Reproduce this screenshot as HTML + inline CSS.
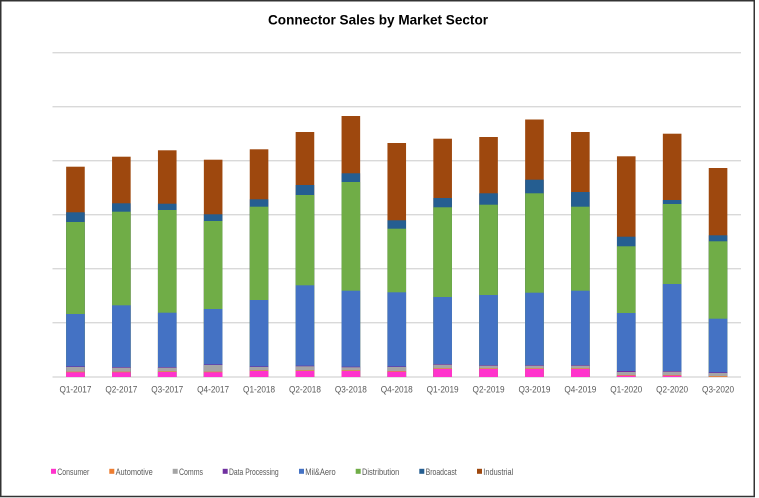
<!DOCTYPE html>
<html><head><meta charset="utf-8"><style>
html,body{margin:0;padding:0;background:#fff;}
svg{display:block;}
text{font-family:"Liberation Sans",sans-serif;}
.p{fill:#FF33CC}.o{fill:#ED7D31}.g{fill:#A5A5A5}.u{fill:#7030A0}.b{fill:#4472C4}.gr{fill:#70AD47}.bc{fill:#255E91}.i{fill:#9E480E}
</style></head><body>
<svg width="759" height="498" viewBox="0 0 759 498" xmlns="http://www.w3.org/2000/svg">
<rect x="0" y="0" width="759" height="498" fill="#fff"/>
<rect x="0.75" y="0.75" width="753.5" height="495.75" fill="none" stroke="#333" stroke-width="1.5"/>
<text x="378" y="24.5" text-anchor="middle" font-size="14" font-weight="bold" fill="#000" textLength="220" lengthAdjust="spacingAndGlyphs">Connector Sales by Market Sector</text>
<g fill="#d9d9d9">
<rect x="52.5" y="52" width="688.5" height="1.4"/>
<rect x="52.5" y="106" width="688.5" height="1.4"/>
<rect x="52.5" y="160" width="688.5" height="1.4"/>
<rect x="52.5" y="214" width="688.5" height="1.4"/>
<rect x="52.5" y="268" width="688.5" height="1.4"/>
<rect x="52.5" y="322" width="688.5" height="1.4"/>
<rect x="52.5" y="376.3" width="688.5" height="1.4"/>
</g>

<g transform="translate(66.15,0)">
<rect class="i" x="0" width="18.6" y="166.7" height="210.3"/>
<rect class="bc" x="0" width="18.6" y="212.3" height="164.7"/>
<rect class="gr" x="0" width="18.6" y="222" height="155"/>
<rect class="b" x="0" width="18.6" y="314" height="63"/>
<rect class="u" x="0" width="18.6" y="366.4" height="10.6"/>
<rect class="g" x="0" width="18.6" y="367" height="10"/>
<rect class="o" x="0" width="18.6" y="371.7" height="5.3"/>
<rect class="p" x="0" width="18.6" y="372.3" height="4.7"/>
</g>
<g transform="translate(112.05,0)">
<rect class="i" x="0" width="18.6" y="156.7" height="220.3"/>
<rect class="bc" x="0" width="18.6" y="203.3" height="173.7"/>
<rect class="gr" x="0" width="18.6" y="211.7" height="165.3"/>
<rect class="b" x="0" width="18.6" y="305.3" height="71.7"/>
<rect class="u" x="0" width="18.6" y="367.1" height="9.9"/>
<rect class="g" x="0" width="18.6" y="367.7" height="9.3"/>
<rect class="o" x="0" width="18.6" y="371.7" height="5.3"/>
<rect class="p" x="0" width="18.6" y="372.3" height="4.7"/>
</g>
<g transform="translate(157.95,0)">
<rect class="i" x="0" width="18.6" y="150.3" height="226.7"/>
<rect class="bc" x="0" width="18.6" y="203.7" height="173.3"/>
<rect class="gr" x="0" width="18.6" y="210" height="167"/>
<rect class="b" x="0" width="18.6" y="312.7" height="64.3"/>
<rect class="u" x="0" width="18.6" y="367.1" height="9.9"/>
<rect class="g" x="0" width="18.6" y="367.7" height="9.3"/>
<rect class="o" x="0" width="18.6" y="371.4" height="5.6"/>
<rect class="p" x="0" width="18.6" y="372" height="5"/>
</g>
<g transform="translate(203.85,0)">
<rect class="i" x="0" width="18.6" y="159.7" height="217.3"/>
<rect class="bc" x="0" width="18.6" y="214.3" height="162.7"/>
<rect class="gr" x="0" width="18.6" y="221" height="156"/>
<rect class="b" x="0" width="18.6" y="309" height="68"/>
<rect class="u" x="0" width="18.6" y="364.4" height="12.6"/>
<rect class="g" x="0" width="18.6" y="365" height="12"/>
<rect class="o" x="0" width="18.6" y="371.7" height="5.3"/>
<rect class="p" x="0" width="18.6" y="372.3" height="4.7"/>
</g>
<g transform="translate(249.75,0)">
<rect class="i" x="0" width="18.6" y="149.3" height="227.7"/>
<rect class="bc" x="0" width="18.6" y="199.3" height="177.7"/>
<rect class="gr" x="0" width="18.6" y="206.7" height="170.3"/>
<rect class="b" x="0" width="18.6" y="300" height="77"/>
<rect class="u" x="0" width="18.6" y="366.4" height="10.6"/>
<rect class="g" x="0" width="18.6" y="367" height="10"/>
<rect class="o" x="0" width="18.6" y="370.4" height="6.6"/>
<rect class="p" x="0" width="18.6" y="371" height="6"/>
</g>
<g transform="translate(295.65,0)">
<rect class="i" x="0" width="18.6" y="132" height="245"/>
<rect class="bc" x="0" width="18.6" y="185" height="192"/>
<rect class="gr" x="0" width="18.6" y="195" height="182"/>
<rect class="b" x="0" width="18.6" y="285.3" height="91.7"/>
<rect class="u" x="0" width="18.6" y="365.7" height="11.3"/>
<rect class="g" x="0" width="18.6" y="366.3" height="10.7"/>
<rect class="o" x="0" width="18.6" y="370.4" height="6.6"/>
<rect class="p" x="0" width="18.6" y="371" height="6"/>
</g>
<g transform="translate(341.55,0)">
<rect class="i" x="0" width="18.6" y="116" height="261"/>
<rect class="bc" x="0" width="18.6" y="173.3" height="203.7"/>
<rect class="gr" x="0" width="18.6" y="182" height="195"/>
<rect class="b" x="0" width="18.6" y="290.7" height="86.3"/>
<rect class="u" x="0" width="18.6" y="366.7" height="10.3"/>
<rect class="g" x="0" width="18.6" y="367.3" height="9.7"/>
<rect class="o" x="0" width="18.6" y="370.4" height="6.6"/>
<rect class="p" x="0" width="18.6" y="371" height="6"/>
</g>
<g transform="translate(387.45,0)">
<rect class="i" x="0" width="18.6" y="143" height="234"/>
<rect class="bc" x="0" width="18.6" y="220.3" height="156.7"/>
<rect class="gr" x="0" width="18.6" y="228.7" height="148.3"/>
<rect class="b" x="0" width="18.6" y="292.3" height="84.7"/>
<rect class="u" x="0" width="18.6" y="366.4" height="10.6"/>
<rect class="g" x="0" width="18.6" y="367" height="10"/>
<rect class="o" x="0" width="18.6" y="371.1" height="5.9"/>
<rect class="p" x="0" width="18.6" y="371.7" height="5.3"/>
</g>
<g transform="translate(433.35,0)">
<rect class="i" x="0" width="18.6" y="138.7" height="238.3"/>
<rect class="bc" x="0" width="18.6" y="198" height="179"/>
<rect class="gr" x="0" width="18.6" y="207.3" height="169.7"/>
<rect class="b" x="0" width="18.6" y="297" height="80"/>
<rect class="u" x="0" width="18.6" y="364.1" height="12.9"/>
<rect class="g" x="0" width="18.6" y="364.7" height="12.3"/>
<rect class="o" x="0" width="18.6" y="368.4" height="8.6"/>
<rect class="p" x="0" width="18.6" y="369" height="8"/>
</g>
<g transform="translate(479.25,0)">
<rect class="i" x="0" width="18.6" y="137" height="240"/>
<rect class="bc" x="0" width="18.6" y="193.3" height="183.7"/>
<rect class="gr" x="0" width="18.6" y="204.7" height="172.3"/>
<rect class="b" x="0" width="18.6" y="295" height="82"/>
<rect class="u" x="0" width="18.6" y="365.1" height="11.9"/>
<rect class="g" x="0" width="18.6" y="365.7" height="11.3"/>
<rect class="o" x="0" width="18.6" y="368.4" height="8.6"/>
<rect class="p" x="0" width="18.6" y="369" height="8"/>
</g>
<g transform="translate(525.15,0)">
<rect class="i" x="0" width="18.6" y="119.5" height="257.5"/>
<rect class="bc" x="0" width="18.6" y="179.7" height="197.3"/>
<rect class="gr" x="0" width="18.6" y="193.3" height="183.7"/>
<rect class="b" x="0" width="18.6" y="292.7" height="84.3"/>
<rect class="u" x="0" width="18.6" y="365.1" height="11.9"/>
<rect class="g" x="0" width="18.6" y="365.7" height="11.3"/>
<rect class="o" x="0" width="18.6" y="368.4" height="8.6"/>
<rect class="p" x="0" width="18.6" y="369" height="8"/>
</g>
<g transform="translate(571.05,0)">
<rect class="i" x="0" width="18.6" y="132" height="245"/>
<rect class="bc" x="0" width="18.6" y="192" height="185"/>
<rect class="gr" x="0" width="18.6" y="206.7" height="170.3"/>
<rect class="b" x="0" width="18.6" y="290.7" height="86.3"/>
<rect class="u" x="0" width="18.6" y="365.1" height="11.9"/>
<rect class="g" x="0" width="18.6" y="365.7" height="11.3"/>
<rect class="o" x="0" width="18.6" y="368.4" height="8.6"/>
<rect class="p" x="0" width="18.6" y="369" height="8"/>
</g>
<g transform="translate(616.95,0)">
<rect class="i" x="0" width="18.6" y="156.3" height="220.7"/>
<rect class="bc" x="0" width="18.6" y="236.7" height="140.3"/>
<rect class="gr" x="0" width="18.6" y="246.3" height="130.7"/>
<rect class="b" x="0" width="18.6" y="313" height="64"/>
<rect class="u" x="0" width="18.6" y="371" height="6"/>
<rect class="g" x="0" width="18.6" y="372" height="5"/>
<rect class="o" x="0" width="18.6" y="375.1" height="1.9"/>
<rect class="p" x="0" width="18.6" y="375.7" height="1.3"/>
</g>
<g transform="translate(662.85,0)">
<rect class="i" x="0" width="18.6" y="133.7" height="243.3"/>
<rect class="bc" x="0" width="18.6" y="200" height="177"/>
<rect class="gr" x="0" width="18.6" y="204" height="173"/>
<rect class="b" x="0" width="18.6" y="284" height="93"/>
<rect class="u" x="0" width="18.6" y="371.1" height="5.9"/>
<rect class="g" x="0" width="18.6" y="371.7" height="5.3"/>
<rect class="o" x="0" width="18.6" y="375.1" height="1.9"/>
<rect class="p" x="0" width="18.6" y="375.7" height="1.3"/>
</g>
<g transform="translate(708.75,0)">
<rect class="i" x="0" width="18.6" y="168" height="209"/>
<rect class="bc" x="0" width="18.6" y="235.3" height="141.7"/>
<rect class="gr" x="0" width="18.6" y="241.3" height="135.7"/>
<rect class="b" x="0" width="18.6" y="318.7" height="58.3"/>
<rect class="u" x="0" width="18.6" y="372.3" height="4.7"/>
<rect class="g" x="0" width="18.6" y="373" height="4"/>
<rect class="o" x="0" width="18.6" y="376.2" height="0.8"/>
</g>

<g font-size="9.5" fill="#595959" text-anchor="middle">
<text x="75.45" y="392.5" textLength="32" lengthAdjust="spacingAndGlyphs">Q1-2017</text>
<text x="121.35" y="392.5" textLength="32" lengthAdjust="spacingAndGlyphs">Q2-2017</text>
<text x="167.25" y="392.5" textLength="32" lengthAdjust="spacingAndGlyphs">Q3-2017</text>
<text x="213.15" y="392.5" textLength="32" lengthAdjust="spacingAndGlyphs">Q4-2017</text>
<text x="259.05" y="392.5" textLength="32" lengthAdjust="spacingAndGlyphs">Q1-2018</text>
<text x="304.95" y="392.5" textLength="32" lengthAdjust="spacingAndGlyphs">Q2-2018</text>
<text x="350.85" y="392.5" textLength="32" lengthAdjust="spacingAndGlyphs">Q3-2018</text>
<text x="396.75" y="392.5" textLength="32" lengthAdjust="spacingAndGlyphs">Q4-2018</text>
<text x="442.65" y="392.5" textLength="32" lengthAdjust="spacingAndGlyphs">Q1-2019</text>
<text x="488.55" y="392.5" textLength="32" lengthAdjust="spacingAndGlyphs">Q2-2019</text>
<text x="534.45" y="392.5" textLength="32" lengthAdjust="spacingAndGlyphs">Q3-2019</text>
<text x="580.35" y="392.5" textLength="32" lengthAdjust="spacingAndGlyphs">Q4-2019</text>
<text x="626.25" y="392.5" textLength="32" lengthAdjust="spacingAndGlyphs">Q1-2020</text>
<text x="672.15" y="392.5" textLength="32" lengthAdjust="spacingAndGlyphs">Q2-2020</text>
<text x="718.05" y="392.5" textLength="32" lengthAdjust="spacingAndGlyphs">Q3-2020</text>
</g>

<g font-size="9.5" fill="#595959">
<rect class="p" x="51" y="468.8" width="5" height="5"/>
<text x="57.3" y="474.8" textLength="32" lengthAdjust="spacingAndGlyphs">Consumer</text>
<rect class="o" x="109.3" y="468.8" width="5" height="5"/>
<text x="115.6" y="474.8" textLength="37.1" lengthAdjust="spacingAndGlyphs">Automotive</text>
<rect class="g" x="172.7" y="468.8" width="5" height="5"/>
<text x="179" y="474.8" textLength="24" lengthAdjust="spacingAndGlyphs">Comms</text>
<rect class="u" x="222.7" y="468.8" width="5" height="5"/>
<text x="229" y="474.8" textLength="49.7" lengthAdjust="spacingAndGlyphs">Data Processing</text>
<rect class="b" x="299" y="468.8" width="5" height="5"/>
<text x="305.3" y="474.8" textLength="30.4" lengthAdjust="spacingAndGlyphs">Mil&amp;Aero</text>
<rect class="gr" x="355.7" y="468.8" width="5" height="5"/>
<text x="362" y="474.8" textLength="37.3" lengthAdjust="spacingAndGlyphs">Distribution</text>
<rect class="bc" x="419.3" y="468.8" width="5" height="5"/>
<text x="425.6" y="474.8" textLength="31.1" lengthAdjust="spacingAndGlyphs">Broadcast</text>
<rect class="i" x="477" y="468.8" width="5" height="5"/>
<text x="483.3" y="474.8" textLength="30" lengthAdjust="spacingAndGlyphs">Industrial</text>
</g>
</svg>
</body></html>
